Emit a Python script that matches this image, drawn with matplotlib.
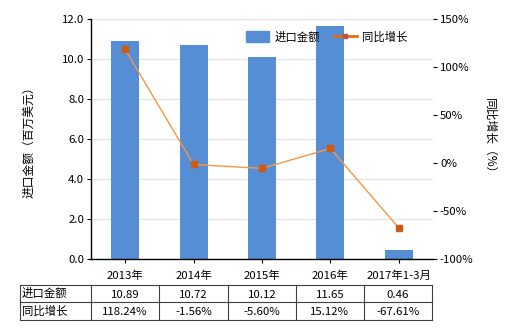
import matplotlib
matplotlib.use("Agg")
import matplotlib.pyplot as plt
from matplotlib.lines import Line2D
from matplotlib.patches import Patch

plt.rcParams['font.family'] = ['Noto Sans CJK SC', 'DejaVu Sans']

categories = ["2013年", "2014年", "2015年", "2016年", "2017年1-3月"]
import_values = [10.89, 10.72, 10.12, 11.65, 0.46]
growth_values = [118.24, -1.56, -5.60, 15.12, -67.61]
import_labels = ["10.89", "10.72", "10.12", "11.65", "0.46"]
growth_labels = ["118.24%", "-1.56%", "-5.60%", "15.12%", "-67.61%"]

W, H = 520, 330
fs = 8.2
fig = plt.figure(figsize=(W/100, H/100), dpi=100)
L, R, T, B = 91, 433, 19, 259
ax = fig.add_axes([L/W, 1-B/H, (R-L)/W, (B-T)/H])
ax2 = ax.twinx()

bar_color = "#558ED5"
x = list(range(len(categories)))
ax.bar(x, import_values, width=0.41, color=bar_color, zorder=2)
ax.set_xlim(-0.5, len(categories)-0.5)
ax.set_ylim(0, 12)
ax.set_yticks([0, 2, 4, 6, 8, 10, 12])
ax.set_yticklabels([f"{v:.1f}" for v in [0, 2, 4, 6, 8, 10, 12]])
ax.yaxis.grid(True, color="#E3E3E3", linewidth=0.8, zorder=0)
ax.set_axisbelow(True)
ax.set_xticks(x)
ax.set_xticklabels(categories)
ax.tick_params(axis='x', length=3, pad=5, labelsize=fs)
ax.tick_params(axis='y', length=3, pad=2, labelsize=fs)
ax.spines["left"].set_linewidth(1.0)
ax.spines["bottom"].set_linewidth(1.0)
for s in ["top", "right"]:
    ax.spines[s].set_visible(False)
    ax2.spines[s].set_visible(False)
ax2.spines["left"].set_visible(False)
ax2.spines["bottom"].set_visible(False)

ax2.plot(x, growth_values, color="#F79646", linewidth=1.0, marker="s",
         markersize=5, markerfacecolor="#D05A10", markeredgecolor="#D05A10", zorder=3)
ax2.set_ylim(-100, 150)
ax2.set_yticks([-100, -50, 0, 50, 100, 150])
ax2.set_yticklabels([f"{v}%" for v in [-100, -50, 0, 50, 100, 150]])
ax2.tick_params(axis='y', length=3, pad=2, labelsize=fs)

fig.text(29/W, 1-139/H, "进口金额（百万美元）", rotation=90, ha='center', va='center', fontsize=fs+0.3)
fig.text(490/W, 1-139/H, "同比增长（%）", rotation=-90, ha='center', va='center', fontsize=fs+0.3)

handles = [Patch(color=bar_color), Line2D([0], [0], color="#E46C0A", linewidth=2.0, marker="s",
                                          markersize=3, markerfacecolor="#C0504D", markeredgecolor="#C0504D")]
fig.legend(handles, ["进口金额", "同比增长"], loc='center', bbox_to_anchor=(327/W, 1-37/H),
           ncol=2, frameon=False, fontsize=fs, handlelength=2.0, handleheight=1.1,
           columnspacing=1.2, handletextpad=0.5)

# table
tax = fig.add_axes([0, 0, 1, 1])
tax.set_xlim(0, W)
tax.set_ylim(H, 0)
tax.axis('off')
cols = [20, 91, 159, 228, 296, 364, 432]
rows = [285, 302, 320]
lc = "#404040"
for r in rows:
    tax.plot([cols[0], cols[-1]], [r, r], color=lc, linewidth=0.8)
for c in cols:
    tax.plot([c, c], [rows[0], rows[-1]], color=lc, linewidth=0.8)
row_titles = ["进口金额", "同比增长"]
for i, (title, labels) in enumerate(zip(row_titles, [import_labels, growth_labels])):
    yc = (rows[i] + rows[i+1]) / 2
    tax.text(cols[0] + 2, yc, title, ha='left', va='center', fontsize=fs)
    for j, lab in enumerate(labels):
        xc = (cols[j+1] + cols[j+2]) / 2
        tax.text(xc, yc + 1, lab, ha='center', va='center', fontsize=fs)

fig.savefig("out.png", dpi=100)
